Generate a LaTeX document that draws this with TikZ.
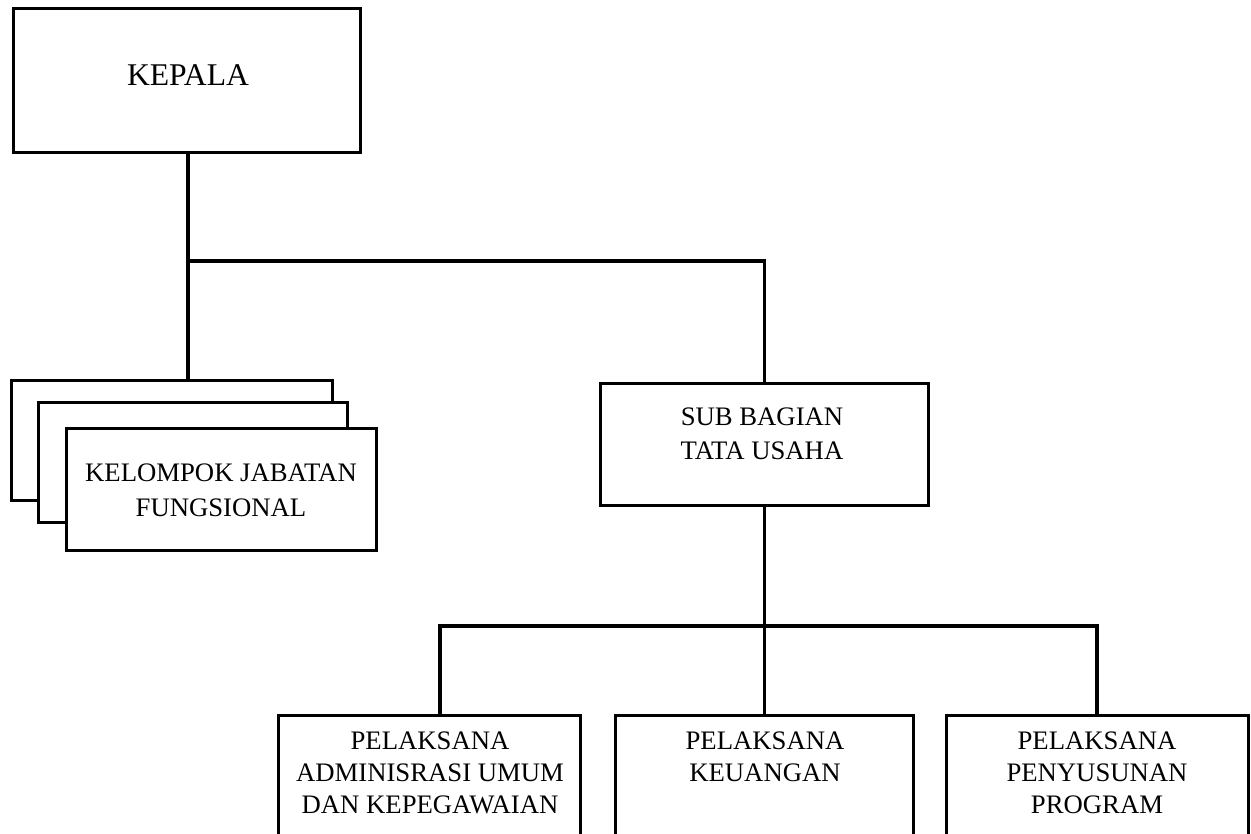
\documentclass[tikz,border=0pt]{standalone}
\usepackage{fontspec}
\setmainfont{Liberation Serif}
\begin{document}
\begin{tikzpicture}[x=0.02cm,y=-0.02cm,
  box/.style={draw, line width=1.7pt, fill=white, inner sep=0pt},
  lbl/.style={align=center, inner sep=0pt, font=\fontsize{15.2}{18.2}\selectfont},
  conn/.style={line width=1.8pt}]
\useasboundingbox (0,0) rectangle (1251,834);
\clip (0,0) rectangle (1251,834);
% boxes
\node[box, minimum width=6.94cm, minimum height=2.9cm] (kepala) at (187,80.5) {};
\node[lbl, font=\fontsize{18}{21}\selectfont] (kepalaT) at (188,75) {KEPALA};

\node[box, minimum width=6.44cm, minimum height=2.42cm] (kjfA) at (172,440.5) {};
\node[box, minimum width=6.20cm, minimum height=2.42cm] (kjfB) at (193,462.5) {};
\node[box, minimum width=6.22cm, minimum height=2.46cm] (kjfC) at (221.5,489.5) {};
\node[lbl, font=\fontsize{15.2}{19.9}\selectfont] (kjfT) at (221,490.5) {KELOMPOK JABATAN\\FUNGSIONAL};

\node[box, minimum width=6.56cm, minimum height=2.46cm] (sub) at (764.5,444.5) {};
\node[lbl, font=\fontsize{15.2}{19.4}\selectfont] (subT) at (762,434) {SUB BAGIAN\\TATA USAHA};

\node[box, minimum width=6.06cm, minimum height=3.3cm] (left) at (429.5,797.5) {};
\node[box, minimum width=5.98cm, minimum height=3.3cm] (mid) at (764.5,797.5) {};
\node[box, minimum width=6.06cm, minimum height=3.3cm] (right) at (1097.5,797.5) {};
\node[lbl] (leftT) at (430,773) {PELAKSANA\\ADMINISRASI UMUM\\DAN KEPEGAWAIAN};
\node[lbl] (midT) at (765,757) {PELAKSANA\\KEUANGAN};
\node[lbl] (rightT) at (1097,773) {PELAKSANA\\PENYUSUNAN\\PROGRAM};

% connectors
\coordinate (j1) at (188,261);
\draw[conn] (kepala.south -| j1) -- (j1 |- kjfA.north);
\draw[conn] (j1) -| (sub.north);
\coordinate (la) at (440,626);
\coordinate (ra) at (1097,626);
\draw[conn] (sub.south) -- (sub.south |- mid.north);
\draw[conn] (la |- left.north) -- (la) -- (ra) -- (ra |- right.north);
\end{tikzpicture}
\end{document}
